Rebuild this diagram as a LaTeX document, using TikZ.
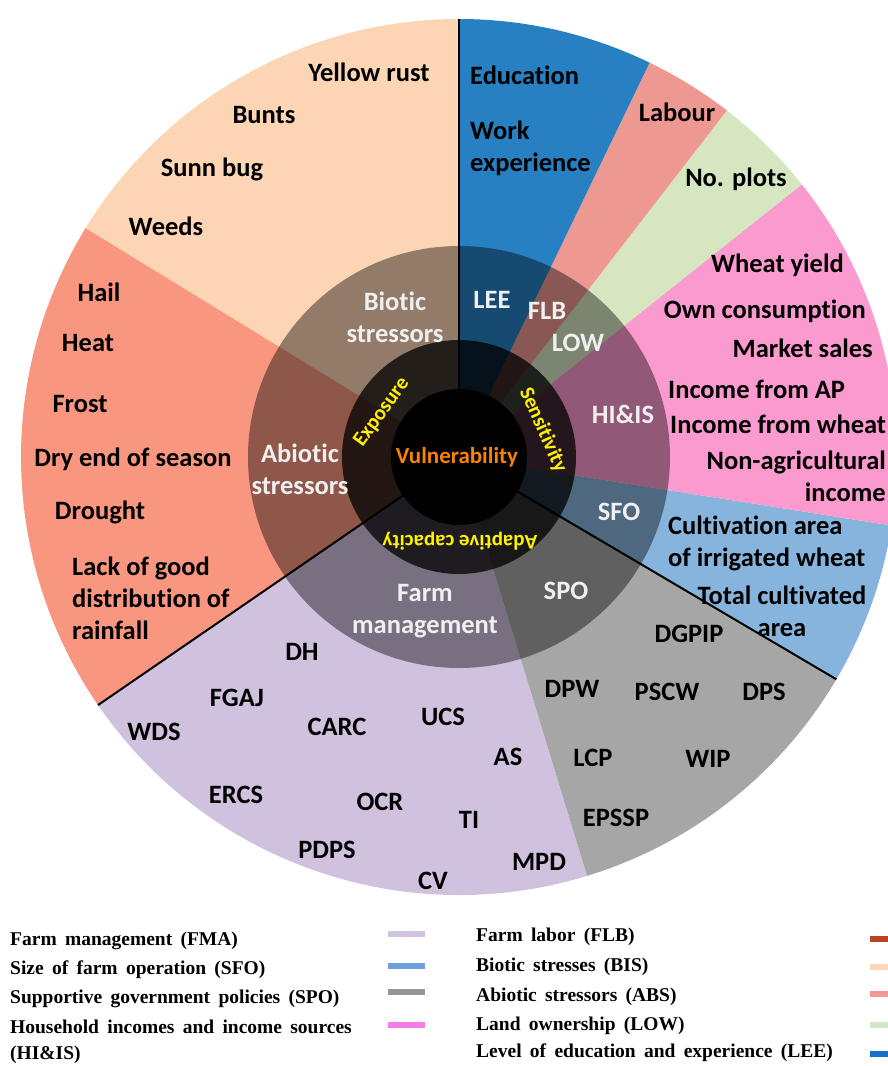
\documentclass[tikz,border=0pt]{standalone}
\usepackage{fontspec}
\setmainfont{Carlito}[Ligatures=NoCommon]
\newfontfamily\legfont{Liberation Serif}[WordSpace=1.7]
\usepackage{xcolor}
\usetikzlibrary{positioning}

\definecolor{biscol}{RGB}{252,213,180}
\definecolor{abscol}{RGB}{248,150,128}
\definecolor{leecol}{RGB}{38,128,194}
\definecolor{flbcol}{RGB}{238,152,146}
\definecolor{lowcol}{RGB}{213,230,192}
\definecolor{hiiscol}{RGB}{250,154,206}
\definecolor{sfocol}{RGB}{134,180,220}
\definecolor{spocol}{RGB}{166,166,166}
\definecolor{fmacol}{RGB}{208,194,222}
\definecolor{vulcol}{RGB}{250,130,0}
% legend keys
\definecolor{fmakey}{RGB}{210,195,225}
\definecolor{sfokey}{RGB}{112,160,218}
\definecolor{spokey}{RGB}{150,150,150}
\definecolor{hiiskey}{RGB}{245,125,232}
\definecolor{flbkey}{RGB}{190,65,35}
\definecolor{biskey}{RGB}{252,215,180}
\definecolor{abskey}{RGB}{245,150,150}
\definecolor{lowkey}{RGB}{210,230,200}
\definecolor{leekey}{RGB}{20,112,200}

\begin{document}
\begin{tikzpicture}[x=1pt,y=1pt,
  outlab/.style={font=\bfseries\fontsize{26.5}{32}\selectfont,inner sep=0pt},
  midlab/.style={font=\bfseries\fontsize{26.5}{32}\selectfont,text=white!94!black,inner sep=0pt},
  ringlab/.style={font=\bfseries\fontsize{21}{24}\selectfont,text=yellow,inner sep=0pt},
  leglab/.style={font=\legfont\bfseries\fontsize{19.5}{26}\selectfont,anchor=west,inner sep=0pt},
  legkey/.style={line width=6pt}]
  \clip (-459,457) rectangle (429,-609);
  \fill[white] (-459,457) rectangle (429,-609);
  % exposure sectors
  \fill[biscol] (0,0) -- (90:438) arc[start angle=90,end angle=148.5,radius=438] -- cycle;
  \fill[abscol] (0,0) -- (148.5:438) arc[start angle=148.5,end angle=214.5,radius=438] -- cycle;
  % adaptive capacity sectors
  \fill[fmacol] (0,0) -- (214.5:438) arc[start angle=214.5,end angle=287,radius=438] -- cycle;
  \fill[spocol] (0,0) -- (287:438) arc[start angle=287,end angle=329.5,radius=438] -- cycle;
  % sensitivity sectors
  \fill[sfocol] (0,0) -- (-30.5:438) arc[start angle=-30.5,end angle=-9,radius=438] -- cycle;
  \fill[hiiscol] (0,0) -- (-9:438) arc[start angle=-9,end angle=38.5,radius=438] -- cycle;
  \fill[lowcol] (0,0) -- (38.5:438) arc[start angle=38.5,end angle=52.3,radius=438] -- cycle;
  \fill[flbcol] (0,0) -- (52.3:438) arc[start angle=52.3,end angle=64.2,radius=438] -- cycle;
  \fill[leecol] (0,0) -- (64.2:438) arc[start angle=64.2,end angle=90,radius=438] -- cycle;
  % shaded rings
  \fill[black,opacity=0.42] (0,0) circle (211);
  \fill[black,opacity=0.75] (0,0) circle (117);
  % dividing lines
  \draw[line width=2pt] (0,0) -- (90:438);
  \draw[line width=2pt] (0,0) -- (-30.5:438);
  \draw[line width=2pt] (0,0) -- (214.5:438);
  % core
  \fill[black] (0,0) circle (68);
  \node[font=\bfseries\fontsize{23}{28}\selectfont,text=vulcol,inner sep=0pt] (vul) at (-2,0) {Vulnerability};
  \node[ringlab,rotate=54] (expo) at (-77,45) {Exposure};
  \node[ringlab,rotate=-66] (sens) at (84,27) {Sensitivity};
  \node[ringlab,rotate=180] (adap) at (1,-84) {Adaptive capacity};
  % middle ring labels
  \node[midlab,align=center] (bis) at (-64,140) {Biotic\\stressors};
  \node[midlab,align=center] (abs) at (-159,-12) {Abiotic\\stressors};
  \node[midlab] (lee) at (33,157) {LEE};
  \node[midlab] (flb) at (88,146) {FLB};
  \node[midlab] (low) at (119,114) {LOW};
  \node[midlab] (hiis) at (164,43) {HI\&IS};
  \node[midlab] (sfo) at (160,-55) {SFO};
  \node[midlab] (spo) at (107,-134) {SPO};
  \node[midlab,align=center] (fma) at (-34,-154) {Farm\\management};
  % biotic stressors
  \node[outlab] (yrust) at (-90,385) {Yellow rust};
  \node[outlab] (bunts) at (-195,342) {Bunts};
  \node[outlab] (sunn) at (-247,288) {Sunn bug};
  \node[outlab] (weeds) at (-293,231) {Weeds};
  % abiotic stressors
  \node[outlab] (hail) at (-360,165) {Hail};
  \node[outlab] (heat) at (-371,114) {Heat};
  \node[outlab] (frost) at (-379,53) {Frost};
  \node[outlab] (dryend) at (-326,-2) {Dry end of season};
  \node[outlab] (drought) at (-359,-55) {Drought};
  \node[outlab,anchor=west,align=left] (rain) at (-387,-141) {Lack of good\\distribution of\\rainfall};
  % education, labour, land
  \node[outlab,anchor=west] (edu) at (11,382) {Education};
  \node[outlab,anchor=west,align=left] (work) at (11,309) {Work\\experience};
  \node[outlab] (labour) at (218,345) {Labour};
  \node[outlab] (plots) at (277,278) {No. plots};
  % incomes
  \node[outlab,anchor=east] (wyield) at (385,192) {Wheat yield};
  \node[outlab,anchor=east] (owncons) at (407,146) {Own consumption};
  \node[outlab,anchor=east] (market) at (414,109) {Market sales};
  \node[outlab,anchor=west] (incap) at (209,68) {Income from AP};
  \node[outlab,anchor=west] (incwh) at (211,33) {Income from wheat};
  \node[outlab,anchor=east,align=right] (nonag) at (427,-19) {Non-agricultural\\income};
  % farm size
  \node[outlab,anchor=west,align=left] (cultiv) at (209,-86) {Cultivation area\\of irrigated wheat};
  \node[outlab,align=center] (totarea) at (323,-154) {Total cultivated\\area};
  % government policies
  \node[outlab] (dgpip) at (230,-177) {DGPIP};
  \node[outlab] (dpw) at (113,-232) {DPW};
  \node[outlab] (pscw) at (208,-235) {PSCW};
  \node[outlab] (dps) at (305,-235) {DPS};
  \node[outlab] (lcp) at (134,-301) {LCP};
  \node[outlab] (wip) at (249,-302) {WIP};
  \node[outlab] (epssp) at (157,-361) {EPSSP};
  % farm management
  \node[outlab] (dh) at (-157,-195) {DH};
  \node[outlab] (fgaj) at (-222,-241) {FGAJ};
  \node[outlab] (wds) at (-305,-275) {WDS};
  \node[outlab] (carc) at (-122,-270) {CARC};
  \node[outlab] (ucs) at (-16,-260) {UCS};
  \node[outlab] (as) at (49,-300) {AS};
  \node[outlab] (ercs) at (-223,-338) {ERCS};
  \node[outlab] (ocr) at (-79,-345) {OCR};
  \node[outlab] (ti) at (10,-363) {TI};
  \node[outlab] (pdps) at (-132,-393) {PDPS};
  \node[outlab] (mpd) at (80,-405) {MPD};
  \node[outlab] (cv) at (-26,-424) {CV};
  % legend
  \node[leglab] (fmaleg) at (-449,-484) {Farm management (FMA)};
  \node[leglab] (sfoleg) at (-449,-513) {Size of farm operation (SFO)};
  \node[leglab] (spoleg) at (-449,-542) {Supportive government policies (SPO)};
  \node[leglab,align=left] (hiisleg) at (-449,-585) {Household incomes and income sources\\(HI\&IS)};
  \draw[legkey,fmakey] (-71,-477) -- (-34,-477);
  \draw[legkey,sfokey] (-71,-509) -- (-34,-509);
  \draw[legkey,spokey] (-71,-535) -- (-34,-535);
  \draw[legkey,hiiskey] (-71,-568) -- (-34,-568);
  \node[leglab] (flbleg) at (17,-480) {Farm labor (FLB)};
  \node[leglab] (bisleg) at (17,-510) {Biotic stresses (BIS)};
  \node[leglab] (absleg) at (17,-540) {Abiotic stressors (ABS)};
  \node[leglab] (lowleg) at (17,-569) {Land ownership (LOW)};
  \node[leglab] (leeleg) at (17,-596) {Level of education and experience (LEE)};
  \draw[legkey,flbkey] (411,-482) -- (440,-482);
  \draw[legkey,biskey] (411,-510) -- (440,-510);
  \draw[legkey,abskey] (411,-537) -- (440,-537);
  \draw[legkey,lowkey] (411,-568) -- (440,-568);
  \draw[legkey,leekey] (411,-597) -- (440,-597);
\end{tikzpicture}
\end{document}
